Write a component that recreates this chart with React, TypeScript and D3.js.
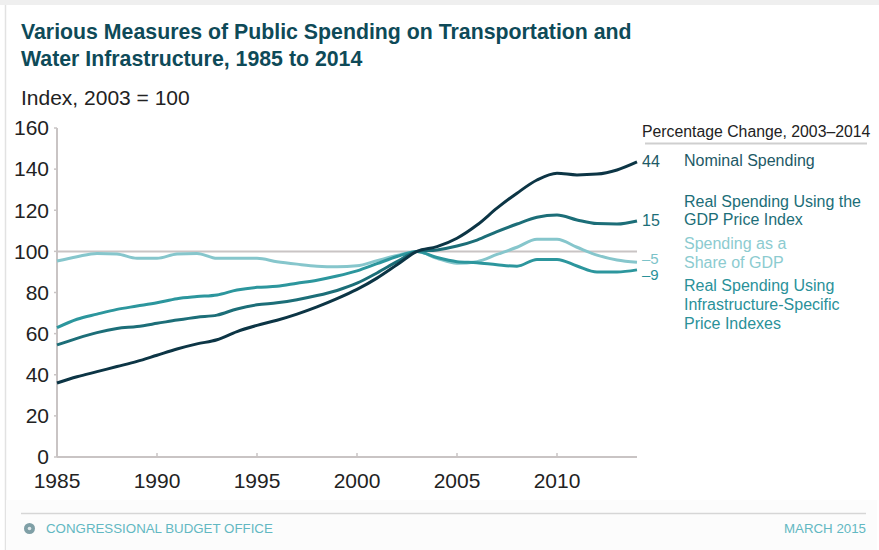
import React from "react";
import * as d3 from "d3";

const years = d3.range(1985, 2015);
const nominal = [36, 39, 41.5, 44, 46.5, 49.5, 52.5, 55, 57, 61, 64, 66.5, 69.5, 73, 77, 81.5, 87, 93.5, 100, 102.3, 106.4, 112.8, 121, 128.3, 134.7, 138, 137.2, 137.6, 139.6, 143.5];
const realGdp = [54.5, 57.7, 60.5, 62.5, 63.5, 65, 66.6, 68, 69, 72, 74, 75, 76.5, 78.5, 81, 84.5, 89.5, 95, 100, 100.7, 102.6, 105.5, 109.6, 113.3, 116.6, 117.7, 115.3, 113.5, 113.3, 114.8];
const realInfra = [62.9, 67, 69.5, 71.8, 73.4, 75, 77, 78, 78.8, 81.2, 82.5, 83, 84.5, 86, 88, 90.5, 94, 97.5, 100, 97, 95, 94.5, 93.5, 92.8, 96.1, 96.1, 92.9, 90, 90, 91];
const shareGdp = [95.3, 97.4, 99, 98.7, 96.6, 96.6, 98.7, 99, 96.6, 96.6, 96.6, 95, 93.8, 92.8, 92.5, 93, 95.5, 98, 100, 96.6, 94.2, 95, 98.5, 102, 105.9, 105.9, 102, 98.2, 95.8, 94.7];

const seriesNames = ["Nominal Spending", "Real Spending Using the GDP Price Index", "Spending as a Share of GDP", "Real Spending Using Infrastructure-Specific Price Indexes"];
const pctChange = ["44", "15", "\u20135", "\u20139"];
const legendLines = [["Nominal Spending"], ["Real Spending Using the", "GDP Price Index"], ["Spending as a", "Share of GDP"], ["Real Spending Using", "Infrastructure-Specific", "Price Indexes"]];
const yTicks = [0, 20, 40, 60, 80, 100, 120, 140, 160];
const xTicks = [1985, 1990, 1995, 2000, 2005, 2010];

const lineColors = ["#0c3545", "#1c6e78", "#86c6cc", "#2c969d"];
const textColors = ["#1d5966", "#1c6e78", "#8ccbd0", "#2a9199"];
const numColors = ["#1d5966", "#1c6e78", "#7cc3c9", "#2a9199"];

export default function App() {
  const W = 879, H = 550;
  const x = d3.scaleLinear().domain([1985, 2014]).range([57, 637]);
  const y = d3.scaleLinear().domain([0, 160]).range([457, 128]);
  const line = d3.line<number>().x((_, i) => x(years[i])).y((d) => y(d)).curve(d3.curveMonotoneX);
  const data = [nominal, realGdp, shareGdp, realInfra];
  const drawOrder = [2, 3, 1, 0];
  const font = "Liberation Sans, Arial, Helvetica, sans-serif";
  const labelYOffsets = [-1, -1, -3.5, 5];
  const legendTop = [160.7, 201, 243.3, 285.7];
  const lh = 18.8;
  const big = 21;

  return (
    <svg width={W} height={H} style={{ position: "absolute", left: 0, top: 0 }} fontFamily={font}>
      <rect x={0} y={0} width={W} height={H} fill="#ffffff" />
      <rect x={0} y={0} width={W} height={5} fill="#efefef" />
      <line x1={5.5} y1={5} x2={5.5} y2={H} stroke="#e2e2e2" strokeWidth={1.5} />
      <rect x={6} y={500} width={W - 8} height={50} fill="#fcfcfc" />
      <text x={21} y={39} fontSize={21.3} fontWeight="bold" fill="#0e4a58">Various Measures of Public Spending on Transportation and</text>
      <text x={21} y={66} fontSize={21.3} fontWeight="bold" fill="#0e4a58">Water Infrastructure, 1985 to 2014</text>
      <text x={21} y={104.5} fontSize={big} fill="#222">Index, 2003 = 100</text>

      {/* axes */}
      <line x1={x(1985)} y1={y(160)} x2={x(1985)} y2={y(0)} stroke="#c9c4c4" strokeWidth={2} />
      <line x1={x(1985)} y1={y(0)} x2={x(2014)} y2={y(0)} stroke="#c9c4c4" strokeWidth={2} />
      {yTicks.map((t) => (
        <g key={"y" + t}>
          <line x1={x(1985) - 3} x2={x(1985)} y1={y(t)} y2={y(t)} stroke="#c9c4c4" strokeWidth={1.5} />
          <text x={49} y={y(t)} dy="0.35em" textAnchor="end" fontSize={big} fill="#222">{t}</text>
        </g>
      ))}
      {xTicks.map((t) => (
        <g key={"x" + t}>
          <line x1={x(t)} x2={x(t)} y1={y(0)} y2={y(0) - 4} stroke="#c9c4c4" strokeWidth={1.5} />
          <text x={x(t)} y={488} textAnchor="middle" fontSize={big} fill="#222">{t}</text>
        </g>
      ))}
      <line x1={x(1985)} x2={x(2014)} y1={y(100)} y2={y(100)} stroke="#c9c4c4" strokeWidth={2} />

      {drawOrder.map((i) => (
        <path key={"l" + i} d={line(data[i]) || ""} fill="none" stroke={lineColors[i]} strokeWidth={3} strokeLinejoin="round" />
      ))}

      {/* legend */}
      <text x={642} y={136.5} fontSize={15.8} fill="#222">Percentage Change, 2003–2014</text>
      <line x1={645} x2={867} y1={143.5} y2={143.5} stroke="#cfcfcf" strokeWidth={2} />
      {data.map((d, i) => (
        <text key={"p" + i} x={642} y={y(d[d.length - 1]) + labelYOffsets[i]} dy="0.35em" fontSize={i >= 2 ? 15 : 16} fill={numColors[i]}>{pctChange[i]}</text>
      ))}
      {legendLines.map((ls, i) => (
        <text key={"t" + i} fontSize={16} fill={textColors[i]} aria-label={seriesNames[i]}>
          {ls.map((s, j) => (
            <tspan key={j} x={684} y={legendTop[i] + j * lh} dy="0.35em">{s}</tspan>
          ))}
        </text>
      ))}

      {/* footer */}
      <line x1={21} x2={866} y1={513.5} y2={513.5} stroke="#d6d6d6" strokeWidth={1.5} />
      <circle cx={29.5} cy={528.5} r={5.5} fill="#7f9fa6" />
      <circle cx={29.5} cy={528.5} r={1.8} fill="#dfe8ea" />
      <text x={46} y={533} fontSize={13.3} fill="#62b8c2">CONGRESSIONAL BUDGET OFFICE</text>
      <text x={866} y={533} fontSize={13.3} textAnchor="end" fill="#62b8c2">MARCH 2015</text>
    </svg>
  );
}
